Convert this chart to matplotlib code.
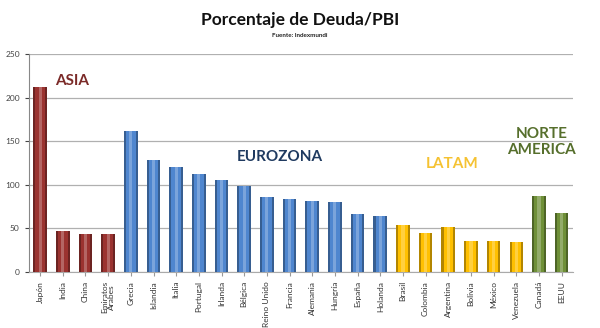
#!/usr/bin/env python3

import numpy as np
import matplotlib.pyplot as plt
import matplotlib.colors as mcolors

countries = ["Japón", "India", "China", "Emiratos\nÁrabes", "Grecia", "Islandia",
             "Italia", "Portugal", "Irlanda", "Bélgica", "Reino Unido", "Francia",
             "Alemania", "Hungría", "España", "Holanda", "Brasil", "Colombia",
             "Argentina", "Bolivia", "México", "Venezuela", "Canadá", "EEUU"]
debt = [212, 47, 43, 43, 162, 128, 120, 112, 105, 99, 86, 84,
        81, 80, 67, 64, 54, 45, 51, 36, 35.5, 34.5, 87, 67.5]
region = ["asia"] * 4 + ["euro"] * 12 + ["latam"] * 6 + ["na"] * 2

bar_colors = {"asia": "#9b3330", "euro": "#4f86cf", "latam": "#ffc000", "na": "#6f9038"}
text_colors = {"asia": "#7b2a28", "euro": "#1f3a60", "latam": "#f5c232", "na": "#566f2c"}


def shade(c, f):
    r, g, b = mcolors.to_rgb(c)
    if f < 0:
        return (r * (1 + f), g * (1 + f), b * (1 + f))
    return (r + (1 - r) * f, g + (1 - g) * f, b + (1 - b) * f)


plt.rcParams['font.family'] = ['Lato', 'DejaVu Sans']

fig = plt.figure(figsize=(6, 3.28), dpi=100)
ax = fig.add_axes([0.048, 0.171, 0.907, 0.664])

x = np.arange(len(countries))
cols = [bar_colors[r] for r in region]
ax.bar(x, debt, width=0.6, color=[shade(c, -0.3) for c in cols], zorder=3)
ax.bar(x, debt, width=0.42, color=cols, zorder=4)
ax.bar(x, debt, width=0.14, color=[shade(c, 0.25) for c in cols], zorder=5)

ax.set_xlim(-0.5, len(countries) - 0.5)
ax.set_ylim(0, 250)
ax.set_yticks(np.arange(0, 251, 50))
ax.set_xticks(x)
ax.set_xticklabels(countries, rotation=90, fontsize=6, color="#333333",
                   linespacing=1.0)
ax.tick_params(axis='y', labelsize=6, colors="#444444", length=3)
ax.tick_params(axis='x', length=3, colors="#999999", labelcolor="#333333")
ax.grid(axis='y', color="#b0b0b0", linewidth=0.9, zorder=0)
for s in ['top', 'right']:
    ax.spines[s].set_visible(False)
ax.spines['left'].set_color("#888888")
ax.spines['bottom'].set_color("#aaaaaa")

ax.text(0.65, 219, "ASIA", color=text_colors["asia"], fontsize=11,
        fontweight='bold', va='center', ha='left')
ax.text(10.57, 132, "EUROZONA", color=text_colors["euro"], fontsize=11,
        fontweight='bold', va='center', ha='center')
ax.text(18.16, 124, "LATAM", color=text_colors["latam"], fontsize=11,
        fontweight='bold', va='center', ha='center')
ax.text(22.1, 149, "NORTE\nAMERICA", color=text_colors["na"], fontsize=11,
        fontweight='bold', va='center', ha='center', linespacing=1.25)

fig.text(0.5, 0.94, "Porcentaje de Deuda/PBI", ha='center', va='center',
         fontsize=12.5, fontweight='bold', color="#111111")
fig.text(0.5, 0.893, "Fuente: Indexmundi", ha='center', va='center',
         fontsize=4.5, fontweight='bold', color="#222222")

fig.savefig("out.png", dpi=100)
